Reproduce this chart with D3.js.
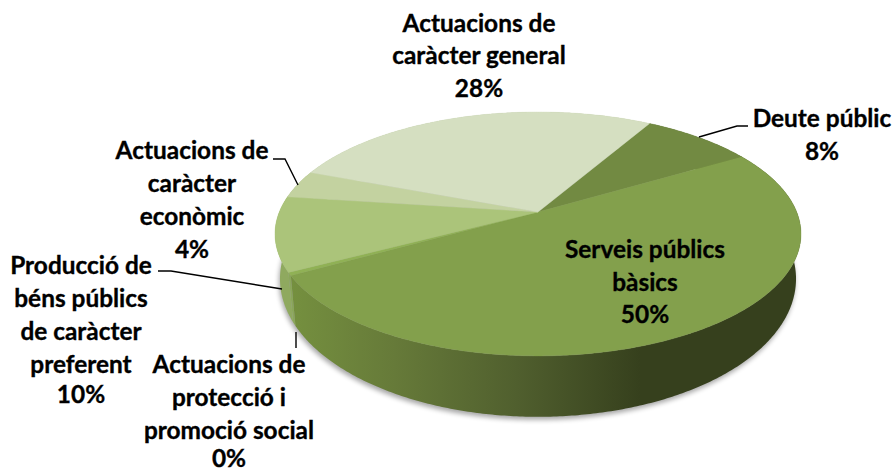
<!DOCTYPE html>
<html>
<head>
<meta charset="utf-8">
<script src="https://cdn.jsdelivr.net/npm/d3@7"></script>
<style>
  html, body { margin: 0; padding: 0; background: #fff; }
  svg { display: block; }
  text { font-family: Lato, sans-serif; font-weight: 700; font-size: 24.4px; fill: #000; stroke: #000; stroke-width: 0.35px; }
</style>
</head>
<body>
<div id="chart"></div>
<script>
// slices in drawing order, clockwise from the deute / general boundary
const categories = ['Deute públic', 'Serveis públics bàsics', 'Actuacions de protecció i promoció social',
  'Producció de béns públics de caràcter preferent', 'Actuacions de caràcter econòmic', 'Actuacions de caràcter general']
const values = [8.2, 50.5, 0.4, 9.9, 3.7, 27.6]
const percentLabels = ['8%', '50%', '0%', '10%', '4%', '28%']

const width = 894
const height = 472

const topColors = ['#728a42', '#83a04c', '#90b155', '#abc47a', '#c3d2a0', '#d5dfc1']
const wallColors = ['#4d5c2b', 'url(#wall)', '#8aa65a', '#8fa95f', '#a3b57e', '#b3c09b']

// text lines per slice, same order as categories; the last line is the percent
const labelLines = [
  ['Deute públic'],
  ['Serveis públics', 'bàsics'],
  ['Actuacions de', 'protecció i', 'promoció social'],
  ['Producció de', 'béns públics', 'de caràcter', 'preferent'],
  ['Actuacions de', 'caràcter', 'econòmic'],
  ['Actuacions de', 'caràcter general']
]
const labelX = [822, 645, 229, 81, 192, 479]
const labelY = [
  [127, 160],
  [258, 291, 323],
  [373, 406, 439, 467],
  [274, 307, 340, 373, 403],
  [159, 192, 225, 258],
  [32, 64, 97]
]
const leaders = [
  [[699, 137], [737, 126], [748, 126]],
  null,
  [[296, 332], [296, 348]],
  [[158, 271], [171, 271], [282, 289]],
  [[298, 185], [285, 159], [273, 159]],
  null
]

// perspective projection of the unit disc, one for top face and one for the base
const topRim = {cx: 538, cy: 212, a: 118, b: 258.7, k: -0.18}
const baseRim = {cx: 538, cy: 254, a: 133.5, b: 253.8, k: -0.18}

function project (rim, angle) {
  const u = Math.sin(angle)
  const v = -Math.cos(angle)
  const w = 1 + rim.k * v
  return [rim.cx + rim.b * u / w, rim.cy + rim.a * v / w]
}

function rimPoints (rim, a0, a1) {
  const n = Math.max(2, Math.ceil((a1 - a0) / 0.01))
  return d3.range(n + 1).map(i => project(rim, a0 + (a1 - a0) * i / n))
}

const startAngle = 29.9 * Math.PI / 180
const pie = d3.pie().sort(null).startAngle(startAngle).endAngle(startAngle + 2 * Math.PI)
const slices = pie(values)
const line = d3.line()

const svg = d3.select('#chart').append('svg')
  .attr('width', width)
  .attr('height', height)

const defs = svg.append('defs')
const wall = defs.append('linearGradient')
  .attr('id', 'wall')
  .attr('gradientUnits', 'userSpaceOnUse')
  .attr('x1', 290).attr('x2', 640).attr('y1', 0).attr('y2', 0)
wall.selectAll('stop')
  .data([[0, '#75903f'], [0.3, '#667a39'], [0.65, '#505f2e'], [1, '#36401d']])
  .enter().append('stop')
  .attr('offset', d => d[0])
  .attr('stop-color', d => d[1])
defs.append('filter').attr('id', 'soft')
  .attr('x', '-10%').attr('y', '-10%').attr('width', '120%').attr('height', '120%')
  .append('feGaussianBlur').attr('stdDeviation', 2.5)

// soft shadow under the base
svg.append('path')
  .attr('d', line(rimPoints(baseRim, 0, 2 * Math.PI).map(p => [p[0] - 1, p[1] + 3])) + 'Z')
  .attr('fill', '#000')
  .attr('opacity', 0.35)
  .attr('filter', 'url(#soft)')

// walls, then the top face over them
const wallOrder = [5, 0, 4, 3, 2, 1]
svg.append('g').classed('walls', true)
  .selectAll('path')
  .data(wallOrder)
  .enter().append('path')
  .attr('fill', i => wallColors[i])
  .attr('d', i => {
    const s = slices[i]
    return line(rimPoints(topRim, s.startAngle, s.endAngle)
      .concat(rimPoints(baseRim, s.startAngle, s.endAngle).reverse())) + 'Z'
  })

svg.append('g').classed('slices', true)
  .selectAll('path')
  .data(slices)
  .enter().append('path')
  .attr('fill', (d, i) => topColors[i])
  .attr('stroke', (d, i) => topColors[i])
  .attr('stroke-width', 0.4)
  .attr('d', d => line([[topRim.cx, topRim.cy]].concat(rimPoints(topRim, d.startAngle, d.endAngle))) + 'Z')

// leader lines
svg.append('g').classed('leaders', true)
  .selectAll('path')
  .data(leaders.filter(d => d))
  .enter().append('path')
  .attr('d', d => line(d))
  .attr('fill', 'none')
  .attr('stroke', '#000')
  .attr('stroke-width', 1.4)

// labels
const labels = svg.append('g').classed('labels', true)
  .selectAll('text')
  .data(categories)
  .enter().append('text')
  .attr('text-anchor', 'middle')

labels.selectAll('tspan')
  .data((d, i) => labelLines[i].concat(percentLabels[i]).map((t, j) => ({t: t, x: labelX[i], y: labelY[i][j]})))
  .enter().append('tspan')
  .attr('x', d => d.x)
  .attr('y', d => d.y)
  .text(d => d.t)
</script>
</body>
</html>
